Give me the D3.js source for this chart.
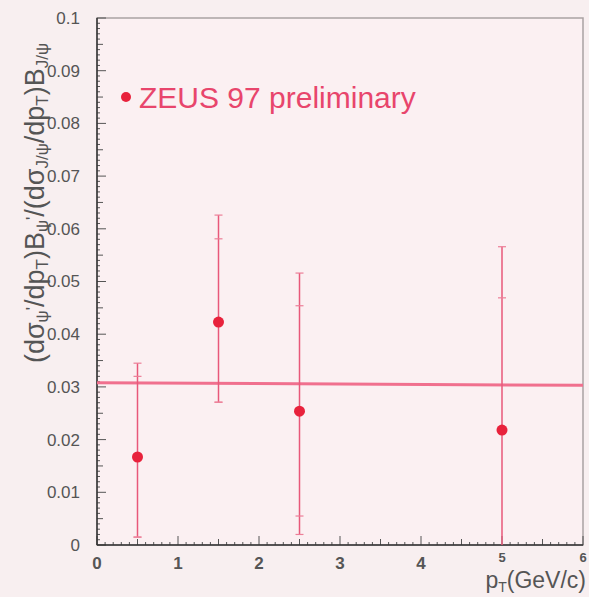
<!DOCTYPE html>
<html>
<head>
<meta charset="utf-8">
<script src="https://cdn.jsdelivr.net/npm/d3@7"></script>
<style>
  body { margin: 0; background: #f8eff0; }
  svg { display: block; }
</style>
</head>
<body>
<div id="chart"></div>
<script>
// measured points (pT bin centres) and their errors
const ptValues = [0.5, 1.5, 2.5, 5];
const ratioValues = [0.0167, 0.0423, 0.0254, 0.0218];
const innerHigh = [0.032, 0.0581, 0.0454, 0.0469];
const outerHigh = [0.0345, 0.0626, 0.0516, 0.0566];
const innerLow = [0.0015, 0.0271, 0.0055, 0];
const outerLow = [0.0015, 0.0271, 0.002, 0];

// fitted constant line
const fitLine = [{ x: 0, y: 0.0308 }, { x: 6, y: 0.0303 }];

const yTicks = [0, 0.01, 0.02, 0.03, 0.04, 0.05, 0.06, 0.07, 0.08, 0.09, 0.1];
const xTicks = [0, 1, 2, 3, 4, 5, 6];

const width = 589;
const height = 597;
const margin = { left: 97, right: 6, top: 18, bottom: 52 };

const svg = d3.select("#chart").append("svg").attr("width", width).attr("height", height);

const x = d3.scaleLinear().domain([0, 6]).range([margin.left, width - margin.right]);
const y = d3.scaleLinear().domain([0, 0.1]).range([height - margin.bottom, margin.top]);

// plot background + frame
svg
  .append("rect")
  .attr("x", x(0))
  .attr("y", y(0.1))
  .attr("width", x(6) - x(0))
  .attr("height", y(0) - y(0.1))
  .attr("fill", "#fbf0f2")
  .attr("stroke", "#a9a2a2")
  .attr("stroke-width", 1.5);

// minor ticks on y axis
const yMinor = d3.range(0, 101).map((i) => i / 1000);
svg
  .selectAll(".yminor")
  .data(yMinor)
  .enter()
  .append("line")
  .attr("x1", x(0))
  .attr("x2", (d, i) => x(0) + (i % 10 === 0 ? 9 : i % 5 === 0 ? 6 : 3))
  .attr("y1", (d) => y(d))
  .attr("y2", (d) => y(d))
  .attr("stroke", "#555")
  .attr("stroke-width", 1);

// minor ticks on x axis
const xMinor = d3.range(0, 61).map((i) => i / 10);
svg
  .selectAll(".xminor")
  .data(xMinor)
  .enter()
  .append("line")
  .attr("x1", (d) => x(d))
  .attr("x2", (d) => x(d))
  .attr("y1", y(0))
  .attr("y2", (d, i) => y(0) - (i % 10 === 0 ? 9 : i % 5 === 0 ? 6 : 3))
  .attr("stroke", "#555")
  .attr("stroke-width", 1);

// axis lines
svg.append("line").attr("x1", x(0)).attr("x2", x(0)).attr("y1", y(0)).attr("y2", y(0.1)).attr("stroke", "#333").attr("stroke-width", 1.5);
svg.append("line").attr("x1", x(0)).attr("x2", x(6)).attr("y1", y(0)).attr("y2", y(0)).attr("stroke", "#333").attr("stroke-width", 1.5);

// tick labels
svg
  .selectAll(".ylab")
  .data(yTicks)
  .enter()
  .append("text")
  .attr("x", 80)
  .attr("y", (d) => y(d))
  .attr("dy", "0.35em")
  .attr("text-anchor", "end")
  .attr("font-family", "Liberation Sans, Arial, sans-serif")
  .attr("font-size", "17px")
  .attr("fill", "#555")
  .text((d) => d);

svg
  .selectAll(".xlab")
  .data(xTicks)
  .enter()
  .append("text")
  .attr("x", (d) => x(d))
  .attr("y", (d) => (d >= 5 ? y(0) + 17 : y(0) + 24))
  .attr("text-anchor", "middle")
  .attr("font-family", "Liberation Sans, Arial, sans-serif")
  .attr("font-size", (d) => (d >= 5 ? "13px" : "17px"))
  .attr("font-weight", "bold")
  .attr("fill", "#555")
  .text((d) => d);

// fit line
svg
  .append("line")
  .attr("x1", x(fitLine[0].x))
  .attr("y1", y(fitLine[0].y))
  .attr("x2", x(fitLine[1].x))
  .attr("y2", y(fitLine[1].y))
  .attr("stroke", "#f0708e")
  .attr("stroke-width", 3);

// error bars
const points = ptValues.map((d, i) => ({
  x: d,
  y: ratioValues[i],
  hi: innerHigh[i],
  hi2: outerHigh[i],
  lo: innerLow[i],
  lo2: outerLow[i],
}));

const bars = svg.selectAll(".pt").data(points).enter().append("g").attr("class", "pt");

bars
  .append("line")
  .attr("x1", (d) => x(d.x))
  .attr("x2", (d) => x(d.x))
  .attr("y1", (d) => y(d.lo2))
  .attr("y2", (d) => y(d.hi2))
  .attr("stroke", "#e8587a")
  .attr("stroke-width", 1.5);

["hi", "hi2", "lo", "lo2"].forEach((k) => {
  bars
    .filter((d) => d[k] > 0)
    .append("line")
    .attr("x1", (d) => x(d.x) - 4)
    .attr("x2", (d) => x(d.x) + 4)
    .attr("y1", (d) => y(d[k]))
    .attr("y2", (d) => y(d[k]))
    .attr("stroke", "#ec7f98")
    .attr("stroke-width", 1.2);
});

bars
  .append("circle")
  .attr("cx", (d) => x(d.x))
  .attr("cy", (d) => y(d.y))
  .attr("r", 5.5)
  .attr("fill", "#e8223c");

// legend
svg.append("circle").attr("cx", 126).attr("cy", 97).attr("r", 5).attr("fill", "#e8223c");
svg
  .append("text")
  .attr("x", 139)
  .attr("y", 108)
  .attr("font-family", "Liberation Sans, Arial, sans-serif")
  .attr("font-size", "30px")
  .attr("fill", "#e8456c")
  .text("ZEUS 97 preliminary");

// y axis title
const ytitle = svg
  .append("text")
  .attr("transform", "translate(44,203) rotate(-90)")
  .attr("text-anchor", "middle")
  .attr("font-family", "Liberation Sans, Arial, sans-serif")
  .attr("font-size", "27px")
  .attr("fill", "#555");

const titleParts = [
  ["(dσ", 0],
  ["ψ", 1],
  ["'", -1],
  ["/dp", 0],
  ["T", 1],
  [")B", 0],
  ["ψ", 1],
  ["'", -1],
  ["/(dσ", 0],
  ["J/ψ", 1],
  ["/dp", 0],
  ["T", 1],
  [")B", 0],
  ["J/ψ", 1],
];
titleParts.forEach(([t, s]) => {
  ytitle
    .append("tspan")
    .attr("baseline-shift", s === 1 ? "-25%" : s === -1 ? "35%" : "0%")
    .attr("font-size", s === 0 ? "27px" : "17px")
    .text(t);
});

// x axis title
const xtitle = svg
  .append("text")
  .attr("x", 586)
  .attr("y", 588)
  .attr("text-anchor", "end")
  .attr("font-family", "Liberation Sans, Arial, sans-serif")
  .attr("font-size", "23px")
  .attr("fill", "#555");
xtitle.append("tspan").text("p");
xtitle.append("tspan").attr("baseline-shift", "-25%").attr("font-size", "14px").text("T");
xtitle.append("tspan").text("(GeV/c)");
</script>
</body>
</html>
